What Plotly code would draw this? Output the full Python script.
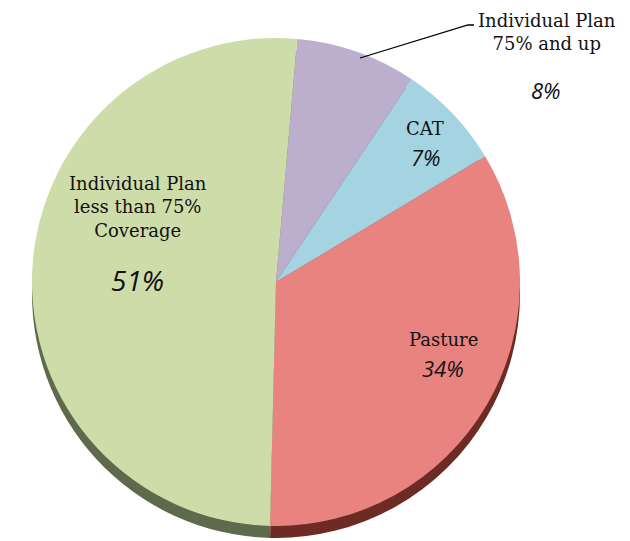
import plotly.graph_objects as go

labels = ["Individual Plan 75% and up", "CAT", "Pasture", "Individual Plan less than 75% Coverage"]
values = [8, 7, 34, 51]
colors = ["#bcaecd", "#a4d4e1", "#e98380", "#cedcaa"]
side_colors = ["#6c6078", "#4f7480", "#6e2a25", "#5f6a4c"]

W, H = 630, 541
OFF = 8  # page body margin offset
cx, cy, r = 276 - OFF, 282 - OFF, 244
depth = 12

def ydom(center_px):
    yc = H - center_px
    return [(yc - r) / H, (yc + r) / H]

xdom = [(cx - r) / W, (cx + r) / W]

fig = go.Figure()
# 3D side (darker copy shifted down)
fig.add_trace(go.Pie(
    labels=labels, values=values, sort=False, direction="clockwise", rotation=5,
    marker=dict(colors=side_colors, line=dict(width=0)),
    textinfo="none", hoverinfo="skip", showlegend=False,
    domain=dict(x=xdom, y=ydom(cy + depth)),
))
# top face
fig.add_trace(go.Pie(
    labels=labels, values=values, sort=False, direction="clockwise", rotation=5,
    marker=dict(colors=colors, line=dict(width=0)),
    textinfo="none", showlegend=False,
    domain=dict(x=xdom, y=ydom(cy)),
))

serif = dict(family="DejaVu Serif", size=18, color="#111111")
pct = lambda s: dict(family="Open Sans", size=s, color="#111111", style="italic")

def px(x, y):
    return (x - OFF) / W, 1 - (y - OFF) / H

annots = [
    ("Individual Plan<br>75% and up", 547, 32, serif),
    ("8%", 546, 90, pct(22)),
    ("CAT", 425, 128, serif),
    ("7%", 426, 157, pct(22)),
    ("Pasture", 443, 339, serif),
    ("34%", 443, 368, pct(22)),
    ("Individual Plan<br>less than 75%<br>Coverage", 138, 207, serif),
    ("51%", 137, 280, pct(28)),
]
for text, x, y, f in annots:
    ax, ay = px(x, y)
    fig.add_annotation(text=text, x=ax, y=ay, xref="paper", yref="paper",
                       showarrow=False, font=f, xanchor="center", yanchor="middle",
                       align="center")

x0, y0 = px(360, 58)
x1, y1 = px(468, 25)
x2, y2 = px(474, 25)
fig.add_shape(type="path", xref="paper", yref="paper",
              path=f"M {x0} {y0} L {x1} {y1} L {x2} {y2}",
              line=dict(color="#000000", width=1.3))

fig.update_layout(width=W, height=H, margin=dict(l=0, r=0, t=0, b=0),
                  paper_bgcolor="white", plot_bgcolor="white")
fig.write_html("out.html")
